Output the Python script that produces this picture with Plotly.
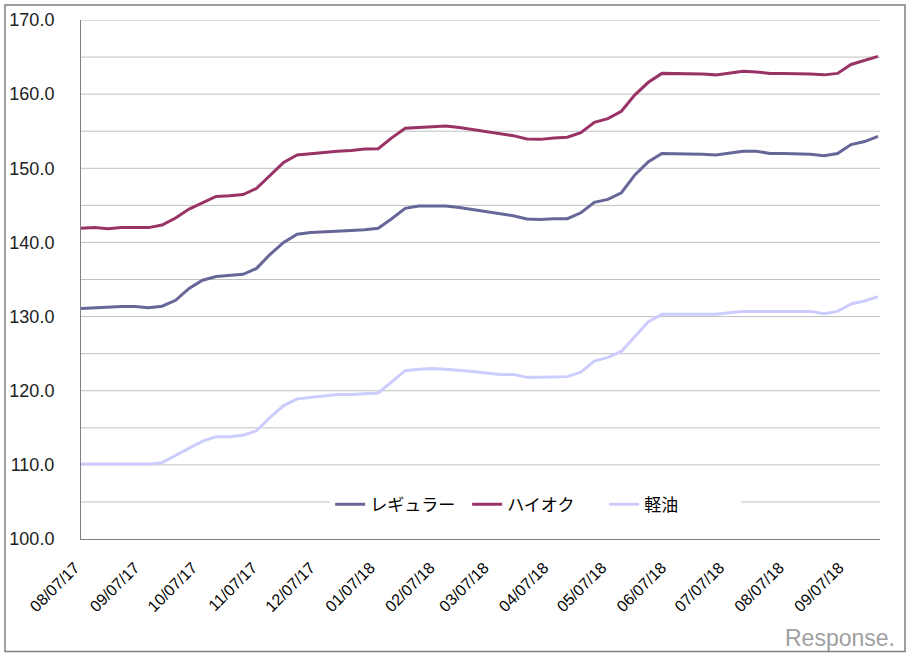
import pandas as pd
import plotly.graph_objects as go

dates = pd.date_range("2017-08-07", periods=60, freq="7D")

regular = [131.1, 131.2, 131.3, 131.35, 131.35, 131.2, 131.4, 132.2, 133.8, 134.9,
           135.4, 135.5, 135.7, 136.5, 138.4, 140.0, 141.1, 141.35, 141.4, 141.5,
           141.6, 141.7, 141.9, 143.2, 144.6, 144.9, 144.9, 144.9, 144.7, 144.4,
           144.1, 143.9, 143.6, 143.15, 143.1, 143.2, 143.2, 144.0, 145.4, 145.8,
           146.7, 149.1, 150.9, 152.0, 152.0, 152.0, 151.9, 151.8, 152.1, 152.3,
           152.3, 152.0, 152.0, 152.0, 151.9, 151.7, 152.0, 153.2, 153.6, 154.3]

high_octane = [141.9, 142.0, 141.85, 142.0, 142.0, 142.0, 142.35, 143.3, 144.5, 145.4,
               146.2, 146.3, 146.45, 147.3, 149.0, 150.8, 151.8, 152.0, 152.2, 152.3,
               152.4, 152.6, 152.65, 154.1, 155.4, 155.5, 155.7, 155.7, 155.5, 155.2,
               154.9, 154.6, 154.4, 153.96, 153.9, 154.1, 154.2, 154.8, 156.2, 156.7,
               157.7, 159.9, 161.6, 162.8, 162.8, 162.7, 162.7, 162.6, 162.8, 163.1,
               163.0, 162.8, 162.8, 162.8, 162.7, 162.6, 162.8, 164.0, 164.5, 165.1]

diesel = [110.1, 110.1, 110.1, 110.1, 110.1, 110.1, 110.3, 111.3, 112.3, 113.2,
          113.8, 113.8, 114.0, 114.6, 116.4, 118.0, 118.9, 119.1, 119.3, 119.5,
          119.5, 119.6, 119.7, 121.2, 122.7, 122.9, 123.0, 122.9, 122.8, 122.6,
          122.4, 122.2, 122.2, 121.8, 121.8, 121.9, 121.9, 122.5, 124.0, 124.5,
          125.3, 127.3, 129.3, 130.3, 130.3, 130.3, 130.3, 130.3, 130.5, 130.7,
          130.7, 130.7, 130.7, 130.7, 130.7, 130.4, 130.7, 131.7, 132.1, 132.7]

series_names = ["レギュラー", "ハイオク", "軽油"]
series_colors = ["#666699", "#993366", "#CCCCFF"]

tick_dates = pd.date_range("2017-08-07", periods=14, freq=pd.DateOffset(months=1))
tick_labels = [d.strftime("%m/%d/%y") for d in tick_dates]

y_ticks = [100, 110, 120, 130, 140, 150, 160, 170]
y_labels = [f"{v:.1f}" for v in y_ticks]

fig = go.Figure()
for name, vals, col in zip(series_names, [regular, high_octane, diesel], series_colors):
    fig.add_trace(go.Scatter(x=dates, y=vals, mode="lines", name=name,
                             line=dict(color=col, width=3)))

# minor gridlines every 5
for v in range(105, 171, 5):
    fig.add_shape(type="line", xref="paper", yref="y", x0=0, x1=1, y0=v, y1=v,
                  line=dict(color="#C0C0C0", width=1), layer="below")

fig.update_layout(
    width=910, height=656,
    margin=dict(l=81, r=30, t=20, b=117, autoexpand=False),
    paper_bgcolor="white", plot_bgcolor="white",
    font=dict(family="Noto Sans CJK JP, Liberation Sans, sans-serif", color="#000000"),
    showlegend=True,
    legend=dict(orientation="h", x=0.569, y=0.066, xanchor="center", yanchor="middle",
                bgcolor="white", font=dict(size=17, family="Noto Sans CJK JP"),
                itemwidth=30, entrywidth=92, tracegroupgap=0),
    xaxis=dict(range=[dates[0], dates[-1] + pd.Timedelta(days=1)],
               tickmode="array", tickvals=tick_dates, ticktext=tick_labels,
               tickangle=-45, tickfont=dict(family="Liberation Sans, Arial", size=16),
               showgrid=False, showline=True, linecolor="#808080", linewidth=1,
               ticks="", zeroline=False, automargin=False, ticklabelstandoff=12,
               ticklabelshift=-6),
    yaxis=dict(range=[100, 170], tickmode="array", tickvals=y_ticks, ticktext=y_labels,
               tickfont=dict(family="Liberation Sans, Arial", size=18, color="#222222"),
               showgrid=False, showline=True, linecolor="#808080", linewidth=1,
               ticks="", zeroline=False, ticklabelstandoff=22, automargin=False),
)

# outer border
fig.add_shape(type="rect", xref="paper", yref="paper",
              x0=-0.0951, x1=1.0313, y0=-0.217, y1=1.0289,
              line=dict(color="#808080", width=1.5), fillcolor="rgba(0,0,0,0)")

fig.add_annotation(text="Response.", xref="paper", yref="paper", x=1.021, y=-0.19,
                   xanchor="right", yanchor="middle", showarrow=False,
                   font=dict(family="Liberation Sans, Arial", size=23, color="#A0A0A0"))

fig.write_html("out.html", config={"displayModeBar": False},
               post_script="document.body.style.margin='0';")
